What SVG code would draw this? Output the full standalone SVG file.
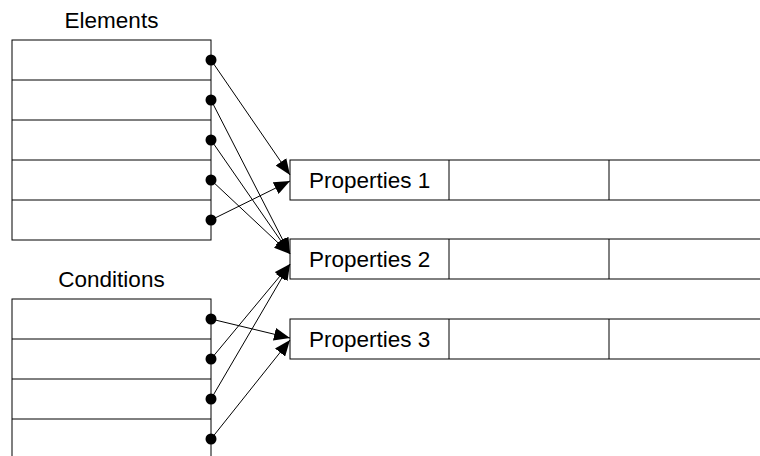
<svg xmlns="http://www.w3.org/2000/svg" width="760" height="456" viewBox="0 0 760 456">
  <defs>
    <marker id="arrow" viewBox="0 0 16 13" refX="16" refY="6.5" markerWidth="16" markerHeight="13" markerUnits="userSpaceOnUse" orient="auto">
      <path d="M0,0 L16,6.5 L0,13 Z" fill="#000"/>
    </marker>
    <style>
      .cell { fill: #fff; stroke: #000; stroke-width: 1; }
      .div { stroke: #000; stroke-width: 1; }
      .lbl { font-family: "Liberation Sans", Arial, sans-serif; font-size: 22.5px; fill: #000; }
      .dot { fill: #000; }
      .conn { stroke: #000; stroke-width: 1; fill: none; marker-end: url(#arrow); }
    </style>
  </defs>
  <rect width="760" height="456" fill="#fff"/>

  <!-- Elements table: five rows with a port on each row -->
  <g id="elements">
    <text class="lbl" x="111.5" y="27.5" text-anchor="middle">Elements</text>
    <rect class="cell" x="12" y="40" width="199" height="200"/>
    <line class="div" x1="12" y1="80" x2="211" y2="80"/>
    <line class="div" x1="12" y1="120" x2="211" y2="120"/>
    <line class="div" x1="12" y1="160" x2="211" y2="160"/>
    <line class="div" x1="12" y1="200" x2="211" y2="200"/>
  </g>

  <!-- Conditions table: continues past the bottom edge -->
  <g id="conditions">
    <text class="lbl" x="111.5" y="287" text-anchor="middle">Conditions</text>
    <rect class="cell" x="12" y="299" width="199" height="170"/>
    <line class="div" x1="12" y1="339" x2="211" y2="339"/>
    <line class="div" x1="12" y1="379" x2="211" y2="379"/>
    <line class="div" x1="12" y1="419" x2="211" y2="419"/>
  </g>

  <!-- Property records, each with three fields -->
  <g id="properties1">
    <rect class="cell" x="290" y="160" width="480" height="40"/>
    <line class="div" x1="449" y1="160" x2="449" y2="200"/>
    <line class="div" x1="609" y1="160" x2="609" y2="200"/>
    <text class="lbl" x="309" y="187.5">Properties 1</text>
  </g>
  <g id="properties2">
    <rect class="cell" x="290" y="239" width="480" height="40"/>
    <line class="div" x1="449" y1="239" x2="449" y2="279"/>
    <line class="div" x1="609" y1="239" x2="609" y2="279"/>
    <text class="lbl" x="309" y="266.5">Properties 2</text>
  </g>
  <g id="properties3">
    <rect class="cell" x="290" y="319" width="480" height="40"/>
    <line class="div" x1="449" y1="319" x2="449" y2="359"/>
    <line class="div" x1="609" y1="319" x2="609" y2="359"/>
    <text class="lbl" x="309" y="346.5">Properties 3</text>
  </g>

  <!-- Connectors from row ports to property records -->
  <g id="connectors">
    <line class="conn" x1="211" y1="60" x2="290" y2="175"/>
    <line class="conn" x1="211" y1="220" x2="290" y2="181"/>
    <line class="conn" x1="211" y1="100" x2="290" y2="254"/>
    <line class="conn" x1="211" y1="140" x2="290" y2="254"/>
    <line class="conn" x1="211" y1="180" x2="290" y2="254"/>
    <line class="conn" x1="211" y1="359" x2="290" y2="264"/>
    <line class="conn" x1="211" y1="399" x2="290" y2="264"/>
    <line class="conn" x1="211" y1="319" x2="290" y2="338"/>
    <line class="conn" x1="211" y1="439" x2="290" y2="340"/>

    <circle class="dot" cx="211" cy="60" r="5.5"/>
    <circle class="dot" cx="211" cy="100" r="5.5"/>
    <circle class="dot" cx="211" cy="140" r="5.5"/>
    <circle class="dot" cx="211" cy="180" r="5.5"/>
    <circle class="dot" cx="211" cy="220" r="5.5"/>
    <circle class="dot" cx="211" cy="319" r="5.5"/>
    <circle class="dot" cx="211" cy="359" r="5.5"/>
    <circle class="dot" cx="211" cy="399" r="5.5"/>
    <circle class="dot" cx="211" cy="439" r="5.5"/>
  </g>
</svg>
